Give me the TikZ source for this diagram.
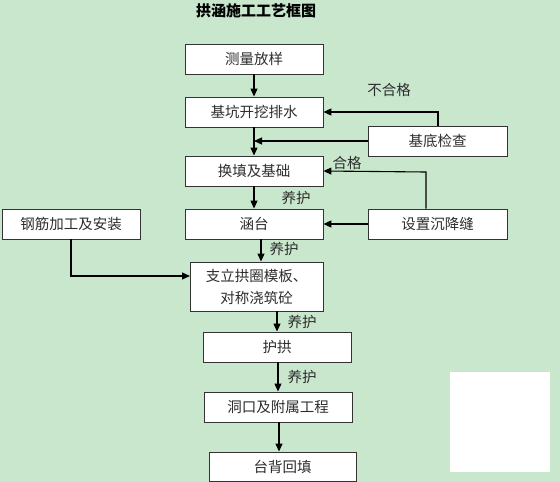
\documentclass[tikz,border=0pt]{standalone}
\usepackage{fontspec}
\setmainfont{Noto Sans CJK SC}
\usetikzlibrary{arrows.meta}
\definecolor{bg}{RGB}{201,231,205}
\definecolor{txt}{RGB}{45,45,45}
\begin{document}
\begin{tikzpicture}[x=1pt,y=-1pt,
  box/.style={draw=black!80,line width=0.9pt,fill=white,inner sep=0pt,text=txt,
    font=\fontsize{14.5}{22}\selectfont,align=center},
  lbl/.style={text=txt,font=\fontsize{14.5}{17}\selectfont,inner sep=0pt},
  arr/.style={line width=1.1pt,-{Triangle[length=8pt,width=7pt]}},
  ln/.style={line width=1.1pt}]
\fill[bg] (0,0) rectangle (560,482);
\useasboundingbox (0,0) rectangle (560,482);
\fill[white] (450,372) rectangle (550,472);
\node[font=\fontsize{15}{17}\selectfont\bfseries,text=black] (title) at (256,11) {拱涵施工工艺框图};
\node[box,minimum width=138pt,minimum height=30pt] (b1) at (254,59) {测量放样};
\node[box,minimum width=138pt,minimum height=30pt] (b2) at (254,112) {基坑开挖排水};
\node[box,minimum width=139pt,minimum height=30pt] (jd) at (437.5,141) {基底检查};
\node[box,minimum width=138pt,minimum height=30pt] (b3) at (254,171) {换填及基础};
\node[box,minimum width=138pt,minimum height=30pt] (ht) at (254,224) {涵台};
\node[box,minimum width=139pt,minimum height=30pt] (sz) at (437.5,224) {设置沉降缝};
\node[box,minimum width=138pt,minimum height=30pt] (gj) at (71,224) {钢筋加工及安装};
\node[box,minimum width=133pt,minimum height=49pt] (zl) at (256.5,286.5) {支立拱圈模板、\\对称浇筑砼};
\node[box,minimum width=148pt,minimum height=30pt] (hg) at (277,347) {护拱};
\node[box,minimum width=148pt,minimum height=30pt] (dk) at (278,407) {洞口及附属工程};
\node[box,minimum width=147pt,minimum height=29pt] (tb) at (282.5,466.5) {台背回填};
% labels
\node[lbl] (l1) at (389,90) {不合格};
\node[lbl] (l2) at (347,163) {合格};
\node[lbl] (l3) at (296,198) {养护};
\node[lbl] (l4) at (284,249) {养护};
\node[lbl] (l5) at (302,322) {养护};
\node[lbl] (l6) at (302,377) {养护};
% coordinates
\coordinate (c1) at (254,141);
\coordinate (c2) at (438,112);
\coordinate (c3) at (426,172);
\coordinate (c4) at (71,276);
\coordinate (c5) at (190,276);
% connectors
\draw[arr] (b1.south) -- (b2.north);
\draw[arr] (b2.south) -- (b3.north);
\draw[arr] (jd.west) -- (c1);
\draw[arr] (jd.north -| c2) -- (c2) -- (b2.east);
\draw[arr] (b3.south) -- (ht.north);
\draw[arr] (sz.north -| c3) -- (c3) -- (b3.east);
\draw[arr] (sz.west) -- (ht.east);
\coordinate (c6) at (261,239);
\draw[arr] (c6) -- (c6 |- zl.north);
\draw[arr] (gj.south -| c4) -- (c4) -- (c5);
\coordinate (c7) at (277,311);
\draw[arr] (c7) -- (c7 |- hg.north);
\coordinate (c8) at (278,362);
\draw[arr] (c8) -- (c8 |- dk.north);
\coordinate (c9) at (279,422);
\draw[arr] (c9) -- (c9 |- tb.north);
\end{tikzpicture}
\end{document}
